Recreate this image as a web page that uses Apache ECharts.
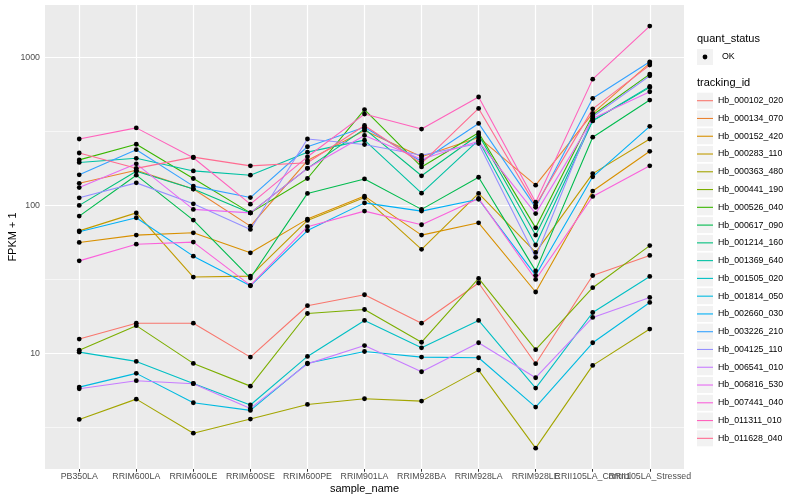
<!DOCTYPE html>
<html>
<head>
<meta charset="utf-8">
<script src="https://cdn.jsdelivr.net/npm/echarts@6/dist/echarts.min.js"></script>
<style>
html,body{margin:0;padding:0;background:#ffffff;}
#chart{width:800px;height:500px;}
</style>
</head>
<body>
<div id="chart"></div>
<script>
// ---------- data ----------
const categories = ['PB350LA','RRIM600LA','RRIM600LE','RRIM600SE','RRIM600PE','RRIM901LA','RRIM928BA','RRIM928LA','RRIM928LE','RRII105LA_Control','RRII105LA_Stressed'];

const trackingIds = ['Hb_000102_020','Hb_000134_070','Hb_000152_420','Hb_000283_110','Hb_000363_480','Hb_000441_190','Hb_000526_040','Hb_000617_090','Hb_001214_160','Hb_001369_640','Hb_001505_020','Hb_001814_050','Hb_002660_030','Hb_003226_210','Hb_004125_110','Hb_006541_010','Hb_006816_530','Hb_007441_040','Hb_011311_010','Hb_011628_040'];

const trackingColors = ['#F8766D','#EA8331','#D89000','#C09B00','#A3A500','#7CAE00','#39B600','#00BB4E','#00BF7D','#00C1A3','#00BFC4','#00BAE0','#00B0F6','#35A2FF','#9590FF','#C77CFF','#E76BF3','#FA62DB','#FF62BC','#FF6C91'];

// FPKM + 1 per sample, in category order
const Hb_000102_020 = [12.5, 16.0, 16.0, 9.44, 21.0, 24.9, 16.0, 29.9, 8.52, 33.6, 45.9];
const Hb_000134_070 = [141, 173, 129, 72.4, 201, 321, 213, 288, 137, 419, 915];
const Hb_000152_420 = [56.2, 63, 65.3, 47.8, 80.8, 115.6, 63, 76.3, 26, 125, 232];
const Hb_000283_110 = [67.3, 89, 32.8, 33.3, 79.2, 113, 50.5, 120.5, 48.1, 164, 281];
const Hb_000363_480 = [3.58, 4.91, 2.89, 3.60, 4.52, 4.94, 4.76, 7.71, 2.29, 8.30, 14.6];
const Hb_000441_190 = [10.5, 15.4, 8.56, 6.01, 18.6, 19.8, 11.9, 32.1, 10.6, 27.8, 53.5];
const Hb_000526_040 = [203, 259, 152, 89, 152, 444, 182, 310, 70.5, 408, 771];
const Hb_000617_090 = [84.7, 160, 79.6, 32.3, 120.5, 151, 94, 155, 36.1, 289, 515];
const Hb_001214_160 = [100, 170, 129, 89, 178, 329, 158.5, 300, 63, 373, 627];
const Hb_001369_640 = [195, 208, 171, 160, 229, 276, 121, 276, 54, 373, 637];
const Hb_001505_020 = [10.2, 8.83, 6.27, 4.48, 9.54, 16.7, 10.9, 16.7, 5.83, 18.9, 33.1];
const Hb_001814_050 = [5.92, 7.33, 4.64, 4.12, 8.59, 10.3, 9.44, 9.35, 4.34, 11.8, 22.1];
const Hb_002660_030 = [66.3, 82.5, 45.4, 28.6, 67.6, 104, 91.5, 110, 33.7, 156, 342];
const Hb_003226_210 = [161, 238, 135, 113, 249, 337, 198, 358, 97, 529, 934];
const Hb_004125_110 = [112.5, 142, 102.5, 68.8, 281, 258, 218, 262, 44.6, 397, 751];
const Hb_006541_010 = [5.77, 6.54, 6.24, 4.25, 8.5, 11.3, 7.52, 11.8, 6.85, 17.5, 23.9];
const Hb_006816_530 = [132, 191, 94, 89, 178, 297, 205, 271, 88, 387, 586];
const Hb_007441_040 = [42.2, 54.7, 56.5, 28.8, 71.8, 91.5, 74, 111.5, 31.6, 115, 185];
const Hb_011311_010 = [281, 334, 210, 102, 213, 414, 328, 540, 105, 713, 1627];
const Hb_011628_040 = [226, 178, 212, 185, 194, 347, 192, 452, 100, 449, 887];

const seriesValues = [Hb_000102_020,Hb_000134_070,Hb_000152_420,Hb_000283_110,Hb_000363_480,Hb_000441_190,Hb_000526_040,Hb_000617_090,Hb_001214_160,Hb_001369_640,Hb_001505_020,Hb_001814_050,Hb_002660_030,Hb_003226_210,Hb_004125_110,Hb_006541_010,Hb_006816_530,Hb_007441_040,Hb_011311_010,Hb_011628_040];

const yMajorTicks = [10, 100, 1000];
const yMinorBreaks = [Math.pow(10,0.5), Math.pow(10,1.5), Math.pow(10,2.5)];
const quantStatus = 'OK';

// ---------- chart ----------
const FONT = "'Liberation Sans', Arial, Helvetica, sans-serif";
const catIdx = categories.map((c, i) => i);
const yMin = Math.pow(10, 0.219);
const yMax = Math.pow(10, 3.354);

const gridLines = [];
yMajorTicks.forEach(v => gridLines.push({ yAxis: v, lineStyle: { color: '#ffffff', width: 1.2, type: 'solid' } }));
yMinorBreaks.forEach(v => gridLines.push({ yAxis: v, lineStyle: { color: '#ffffff', width: 0.6, type: 'solid' } }));
catIdx.forEach(i => gridLines.push({ xAxis: i, lineStyle: { color: '#ffffff', width: 1.2, type: 'solid' } }));

const series = [{
  name: '_grid',
  type: 'line',
  data: [],
  z: 1,
  silent: true,
  markLine: {
    z: 1,
    silent: true,
    symbol: ['none', 'none'],
    label: { show: false },
    emphasis: { disabled: true },
    animation: false,
    data: gridLines
  }
}];

trackingIds.forEach((id, k) => {
  series.push({
    name: id,
    type: 'line',
    data: seriesValues[k].map((v, i) => [i, v]),
    showSymbol: false,
    symbol: 'none',
    color: trackingColors[k],
    lineStyle: { color: trackingColors[k], width: 1.1 },
    itemStyle: { color: trackingColors[k] },
    z: 2,
    silent: true,
    animation: false
  });
});

const pointData = [];
seriesValues.forEach(arr => arr.forEach((v, i) => pointData.push([i, v])));
series.push({
  name: quantStatus,
  type: 'scatter',
  data: pointData,
  symbol: 'circle',
  symbolSize: 4.8,
  itemStyle: { color: '#000000', borderWidth: 0, opacity: 1 },
  z: 3,
  silent: true,
  animation: false
});

const legendLeft = 692;
const legendTop = 100.7 - 8 - 5;
const legendGap = 1.77;
const legendText = { fontFamily: FONT, fontSize: 8.8, color: '#000000', lineHeight: 16 };

const xLabelStyle = {
  formatter: v => categories[Math.round(v)] || '',
  fontFamily: FONT, fontSize: 8.8, color: '#4D4D4D', margin: 3.5,
  hideOverlap: false, showMinLabel: true, showMaxLabel: true
};
const mainIdx = catIdx.filter(i => i !== 9);

const option = {
  animation: false,
  backgroundColor: '#ffffff',
  textStyle: { fontFamily: FONT },
  title: [
    { text: 'quant_status', left: 692, top: 40 - 6.5 - 5, textStyle: { fontFamily: FONT, fontSize: 11, fontWeight: 'normal', color: '#000000' } },
    { text: 'tracking_id', left: 692, top: 83.5 - 6.5 - 5, textStyle: { fontFamily: FONT, fontSize: 11, fontWeight: 'normal', color: '#000000' } }
  ],
  grid: {
    left: 45, right: 116, top: 5, bottom: 31,
    show: true, backgroundColor: '#EBEBEB', borderWidth: 0,
    containLabel: false,
    outerBoundsMode: 'none'
  },
  legend: [
    {
      data: trackingIds,
      orient: 'vertical', left: legendLeft, top: legendTop,
      itemWidth: 16, itemHeight: 16, itemGap: legendGap,
      icon: 'rect', selectedMode: false,
      itemStyle: { color: '#F2F2F2', borderWidth: 0 },
      textStyle: Object.assign({}, legendText, { color: 'rgba(0,0,0,0)' })
    },
    {
      data: trackingIds,
      orient: 'vertical', left: legendLeft, top: legendTop,
      itemWidth: 16, itemHeight: 1.1, itemGap: legendGap,
      icon: 'rect', selectedMode: false,
      itemStyle: { borderWidth: 0 },
      textStyle: legendText
    },
    {
      data: [quantStatus],
      orient: 'vertical', left: legendLeft, top: 57 - 8 - 5,
      itemWidth: 16, itemHeight: 16,
      icon: 'rect', selectedMode: false,
      itemStyle: { color: '#F2F2F2', borderWidth: 0, opacity: 1 },
      textStyle: Object.assign({}, legendText, { color: 'rgba(0,0,0,0)' })
    },
    {
      data: [quantStatus],
      orient: 'vertical', left: legendLeft + 8 - 2.4, top: 57 - 8 - 5,
      itemWidth: 4.8, itemHeight: 4.8,
      icon: 'circle', selectedMode: false,
      itemStyle: { color: '#000000', borderWidth: 0, opacity: 1 },
      textStyle: Object.assign({}, legendText, { padding: [0, 0, 0, 9.5] })
    }
  ],
  xAxis: [{
    type: 'value',
    min: -0.6, max: 10.6,
    name: 'sample_name',
    nameLocation: 'middle',
    nameGap: 14,
    nameMoveOverlap: false,
    nameTextStyle: { fontFamily: FONT, fontSize: 11, color: '#000000' },
    axisLine: { show: false },
    axisTick: { show: true, length: 2.75, lineStyle: { color: '#333333', width: 1 }, customValues: catIdx },
    axisLabel: Object.assign({ customValues: mainIdx }, xLabelStyle),
    splitLine: { show: false }
  }, {
    type: 'value',
    position: 'bottom',
    offset: 0,
    min: -0.6, max: 10.6,
    axisLine: { show: false },
    axisTick: { show: false },
    axisLabel: Object.assign({ customValues: [9] }, xLabelStyle),
    splitLine: { show: false }
  }],
  yAxis: {
    type: 'log',
    logBase: 10,
    min: yMin, max: yMax,
    name: 'FPKM + 1',
    nameLocation: 'middle',
    nameGap: 27,
    nameMoveOverlap: false,
    nameTextStyle: { fontFamily: FONT, fontSize: 11, color: '#000000' },
    axisLine: { show: false },
    axisTick: { show: true, length: 2.75, lineStyle: { color: '#333333', width: 1 }, customValues: yMajorTicks },
    axisLabel: {
      customValues: yMajorTicks,
      formatter: v => String(Math.round(v)),
      fontFamily: FONT, fontSize: 8.8, color: '#4D4D4D', margin: 5,
      showMinLabel: true, showMaxLabel: true
    },
    splitLine: { show: false },
    minorSplitLine: { show: false }
  },
  series: series
};

const chart = echarts.init(document.getElementById('chart'), null, { renderer: 'canvas' });
chart.setOption(option);
</script>
</body>
</html>
